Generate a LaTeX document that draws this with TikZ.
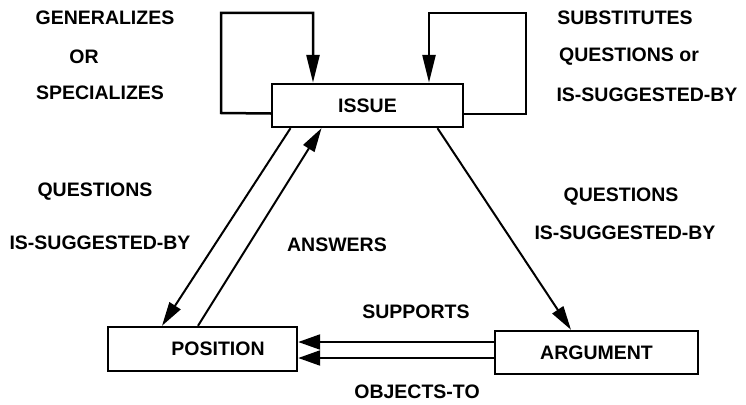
\documentclass[tikz,border=0pt]{standalone}
\usepackage{fontspec}
\setmainfont{Liberation Sans}
\usetikzlibrary{arrows.meta}
\begin{document}
\begin{tikzpicture}[x=1pt,y=-1pt,
  lbl/.style={font=\bfseries\fontsize{19.5}{21}\selectfont, inner sep=0pt},
  box/.style={draw, line width=2.4pt, inner sep=0pt, font=\bfseries\fontsize{19.5}{21}\selectfont},
  conn/.style={line width=2pt, -{Triangle[length=24pt,width=13pt]}},
  hconn/.style={line width=2.2pt, -{Triangle[length=22pt,width=15pt]}},
  loopc/.style={line width=2.5pt, -{Triangle[length=28pt,width=13pt]}},
]
\useasboundingbox (0,0) rectangle (746,404);
\node[box, minimum width=191pt, minimum height=43pt] (issue) at (367.5,105.5) {ISSUE};
\node[box, minimum width=189pt, minimum height=44pt] (pos) at (202.5,349) {\hspace*{31pt}POSITION};
\node[box, minimum width=203pt, minimum height=43pt] (arg) at (596.5,352.5) {ARGUMENT};

% self loops
\coordinate (la) at (221,113);
\coordinate (lb) at (221,13);
\coordinate (lc) at (313,13);
\draw[loopc] ([yshift=-8pt]issue.west) -- (la) -- (lb) -- (lc) -- (lc |- issue.north);
\coordinate (ra) at (526,114);
\coordinate (rb) at (526,13);
\coordinate (rc) at (429,13);
\draw[loopc] ([yshift=-8.5pt]issue.east) -- (ra) -- (rb) -- (rc) -- (rc |- issue.north);

% diagonals
\draw[conn] ([xshift=-77pt]issue.south) -- ([xshift=-40.5pt]pos.north);
\draw[conn] ([xshift=-4.5pt]pos.north) -- ([xshift=-46pt]issue.south);
\draw[conn] ([xshift=70pt]issue.south) -- ([xshift=-25.5pt]arg.north);

% argument to position
\coordinate (s1) at ([yshift=10.5pt]arg.west);
\coordinate (s2) at ([yshift=-5.5pt]arg.west);
\draw[hconn] (s1) -- (pos.east |- s1);
\draw[hconn] (s2) -- (pos.east |- s2);

% labels
\node[lbl] (t1) at (105,18) {GENERALIZES};
\node[lbl] (t2) at (84,57) {OR};
\node[lbl] (t3) at (100,93) {SPECIALIZES};
\node[lbl] (t4) at (625,18) {SUBSTITUTES};
\node[lbl] (t5) at (629,57) {QUESTIONS or};
\node[lbl] (t6) at (647,95) {IS-SUGGESTED-BY};
\node[lbl] (t7) at (95,192) {QUESTIONS};
\node[lbl] (t8) at (100,243) {IS-SUGGESTED-BY};
\node[lbl] (t9) at (337,245) {ANSWERS};
\node[lbl] (t10) at (621,197) {QUESTIONS};
\node[lbl] (t11) at (625,233) {IS-SUGGESTED-BY};
\node[lbl] (t12) at (416,312) {SUPPORTS};
\node[lbl] (t13) at (417,392) {OBJECTS-TO};
\end{tikzpicture}
\end{document}
